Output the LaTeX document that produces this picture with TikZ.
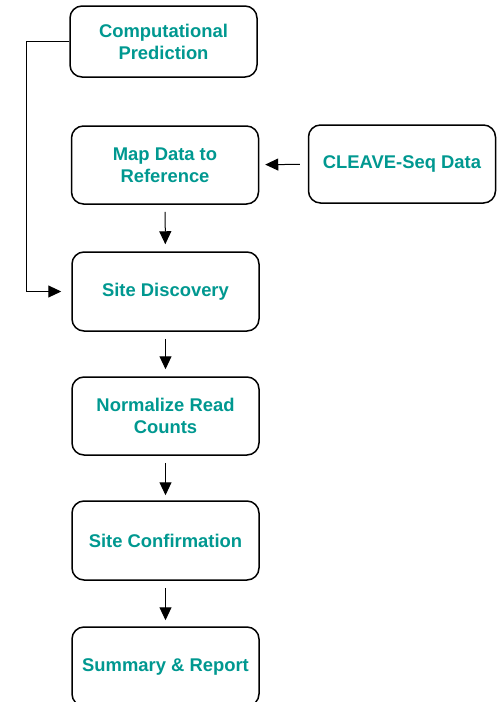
\documentclass[tikz,border=0pt]{standalone}
\usepackage{fontspec}
\setmainfont{Liberation Sans}
\usepackage{tikz}
\usetikzlibrary{arrows.meta, positioning}
\definecolor{StepTeal}{RGB}{0,152,144}

\tikzset{
	stepbox/.style={draw, line width=1.5pt, rounded corners=12pt, align=center,
		minimum width=187pt, minimum height=78pt, inner sep=0pt,
		text=StepTeal, font=\bfseries\fontsize{18.4}{22}\selectfont},
	flow/.style={line width=1pt, -{Triangle[length=13pt, width=12pt]}}
}

\begin{document}
\begin{tikzpicture}[x=1pt, y=-1pt]
		\useasboundingbox (0,0) rectangle (500,702);
		\node[stepbox, minimum height=71pt] (comp) at (163.5,41.5) {Computational\\Prediction};
		\node[stepbox] (map) at (165,165) {Map Data to\\Reference};
		\node[stepbox] (cleave) at (402,164) {CLEAVE-Seq Data};
		\node[stepbox, minimum height=79pt] (disc) at (165.5,291.5) {Site Discovery};
		\node[stepbox] (norm) at (165.5,416) {Normalize Read\\Counts};
		\node[stepbox, minimum height=79pt] (conf) at (165.5,540.5) {Site Confirmation};
		\node[stepbox, minimum height=79pt] (summ) at (165.5,666.5) {Summary \& Report};
		\coordinate (elbow) at (26,41.5);
		\draw[flow, shorten <=8pt, shorten >=6pt] (cleave) -- (map);
		\draw[flow, shorten <=7pt, shorten >=7pt] (map) -- (disc);
		\draw[flow, shorten <=7pt, shorten >=7pt] (disc) -- (norm);
		\draw[flow, shorten <=7pt, shorten >=5pt] (norm) -- (conf);
		\draw[flow, shorten <=7pt, shorten >=6pt] (conf) -- (summ);
		\draw[flow, shorten >=10pt] (comp.west) -- (elbow) |- (disc.west);
	\end{tikzpicture}
\end{document}
